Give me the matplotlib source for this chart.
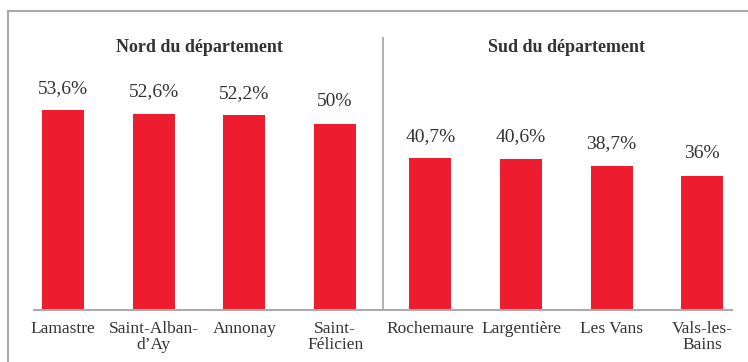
import matplotlib.pyplot as plt
from matplotlib.lines import Line2D

plt.rcParams['font.family'] = ['Liberation Serif', 'DejaVu Serif']

# share of each commune, north then south
nord_labels = ["Lamastre", "Saint-Alban-\nd’Ay", "Annonay", "Saint-\nFélicien"]
nord_values = [53.6, 52.6, 52.2, 50.0]
sud_labels = ["Rochemaure", "Largentière", "Les Vans", "Vals-les-\nBains"]
sud_values = [40.7, 40.6, 38.7, 36.0]
group_titles = ["Nord du département", "Sud du département"]

bar_color = "#ED1C2E"
text_color = "#333333"
line_color = "#ABABAB"

gap = 1.05  # distance between the two groups, in bar slots
xs_nord = [i for i in range(len(nord_values))]
xs_sud = [len(nord_values) - 1 + gap + i for i in range(len(sud_values))]
xs = xs_nord + xs_sud
values = nord_values + sud_values
labels = nord_labels + sud_labels

fig = plt.figure(figsize=(7.48, 3.62), dpi=100)
ax = fig.add_axes([0.0455, 0.1436, 0.9332, 0.7541])

ax.bar(xs, values, width=0.463, color=bar_color, zorder=2)

def fmt(v):
    s = f"{v:.1f}".replace(".", ",")
    if s.endswith(",0"):
        s = s[:-2]
    return s + "%"

for x, v in zip(xs, values):
    ax.text(x, v + 3.6, fmt(v), ha="center", va="bottom",
            fontsize=14, color=text_color)

ax.set_xlim(-0.32, 7.378)
ax.set_ylim(0, 73.2)
ax.set_xticks(xs)
ax.set_xticklabels(labels, fontsize=12.5, color=text_color, linespacing=1.0)
ax.tick_params(axis="x", length=0, pad=8)
ax.set_yticks([])
for side in ["top", "right", "left"]:
    ax.spines[side].set_visible(False)
ax.spines["bottom"].set_color(line_color)
ax.spines["bottom"].set_linewidth(1.5)

# divider between the two halves of the département
mid = (xs_nord[-1] + xs_sud[0]) / 2
ax.axvline(mid, ymin=0, ymax=1, color=line_color, linewidth=1.3)

centers = [sum(xs_nord) / len(xs_nord), sum(xs_sud) / len(xs_sud)]
for c, t in zip(centers, group_titles):
    ax.text(c, 70.3, t, ha="center", va="center", fontsize=13,
            fontweight="bold", color=text_color)

# outer frame, cut off by the image edges
fx0, fy0 = 7.5 / 748, 1 - 10.5 / 362
fig.add_artist(Line2D([fx0, 1.0], [fy0, fy0], transform=fig.transFigure,
                      color=line_color, linewidth=1.5))
fig.add_artist(Line2D([fx0, fx0], [0.0, fy0], transform=fig.transFigure,
                      color=line_color, linewidth=1.5))

fig.savefig("out.png", dpi=100)
